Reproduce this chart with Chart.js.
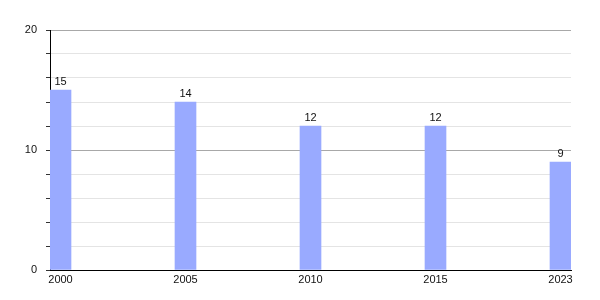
<!DOCTYPE html>
<html>
<head>
<meta charset="utf-8">
<script src="https://cdn.jsdelivr.net/npm/chart.js@4"></script>
<style>
  html, body { margin: 0; padding: 0; background: #fff; }
  #wrap { width: 600px; height: 300px; }
</style>
</head>
<body>
<div id="wrap"><canvas id="chart"></canvas></div>
<script>
// Data
const years = ['2000', '2005', '2010', '2015', '2023'];
const values = [15, 14, 12, 12, 9];
const yTicks = [0, 10, 20];

// value labels above each bar
const barLabels = {
    id: 'barLabels',
    afterDatasetsDraw(chart) {
        const ctx = chart.ctx;
        const meta = chart.getDatasetMeta(0);
        ctx.save();
        ctx.font = '11px "Liberation Sans", Arial, sans-serif';
        ctx.fillStyle = '#111';
        ctx.textAlign = 'center';
        ctx.textBaseline = 'bottom';
        meta.data.forEach((bar, i) => {
            ctx.fillText(String(values[i]), bar.x, bar.y - 3);
        });
        ctx.restore();
    }
};

Chart.defaults.font.family = '"Liberation Sans", Arial, sans-serif';
Chart.defaults.font.size = 11;
Chart.defaults.color = '#111';

const ctx = document.getElementById('chart').getContext('2d');
new Chart(ctx, {
    type: 'bar',
    data: {
        datasets: [{
            data: values.map((v, i) => ({ x: i, y: v })),
            backgroundColor: '#99aaff',
            borderWidth: 0,
            barThickness: 21
        }]
    },
    options: {
        responsive: true,
        maintainAspectRatio: false,
        animation: false,
        layout: { padding: { top: 30, right: 29, bottom: 0, left: 0 } },
        plugins: {
            legend: { display: false },
            tooltip: { enabled: false }
        },
        scales: {
            x: {
                type: 'linear',
                offset: false,
                min: -0.084,
                max: years.length - 1 + 0.084,
                afterFit(scale) { scale.height = 30; },
                grid: { display: false, drawTicks: false },
                border: { display: true, color: '#000', width: 1 },
                ticks: {
                    stepSize: 1,
                    includeBounds: false,
                    autoSkip: false,
                    maxRotation: 0,
                    padding: 3,
                    callback: v => Number.isInteger(v) ? years[v] : ''
                }
            },
            y: {
                min: 0,
                max: 20,
                afterFit(scale) { scale.width = 50; },
                border: { display: true, color: '#000', width: 1 },
                grid: {
                    color: c => (c.tick && c.tick.value % 10 === 0) ? '#a8a8a8' : '#e4e4e4',
                    tickColor: '#333',
                    tickLength: 4
                },
                ticks: {
                    stepSize: 2,
                    padding: 9,
                    callback: v => yTicks.includes(v) ? String(v) : ''
                }
            }
        }
    },
    plugins: [barLabels]
});
</script>
</body>
</html>
